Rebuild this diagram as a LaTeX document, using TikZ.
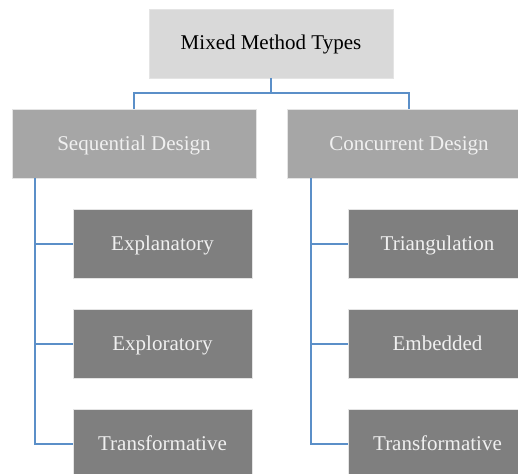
\documentclass[tikz,border=0pt]{standalone}
\usepackage{fontspec}
\setmainfont{Liberation Serif}
\definecolor{lvA}{HTML}{D9D9D9}
\definecolor{lvB}{HTML}{A6A6A6}
\definecolor{lvC}{HTML}{7F7F7F}
\definecolor{conn}{HTML}{5B8FC8}
\definecolor{edge}{HTML}{E4E4E4}
\begin{document}
\begin{tikzpicture}[x=1pt,y=-1pt,
  box/.style={rectangle,draw=edge,line width=0.8pt,inner sep=0pt,minimum height=69pt,
    text height=15pt,text depth=2pt,
    font=\fontsize{21}{25}\selectfont},
  topbox/.style={box,fill=lvA,text=black,minimum width=244pt},
  midbox/.style={box,fill=lvB,text=white!94!black,minimum width=244pt},
  leafbox/.style={box,fill=lvC,text=white!94!black,minimum width=179pt},
  link/.style={draw=conn,line width=2pt}]
\useasboundingbox (0,0) rectangle (518,473);
\node[topbox] (root) at (271,43.5) {Mixed Method Types};
\node[midbox] (seq) at (134,143.5) {Sequential Design};
\node[midbox] (con) at (409,143.5) {Concurrent Design};
\node[leafbox] (s1) at (162.5,243.5) {Explanatory};
\node[leafbox] (s2) at (162.5,343.5) {Exploratory};
\node[leafbox] (s3) at (162.5,443.5) {Transformative};
\node[leafbox] (c1) at (437.5,243.5) {Triangulation};
\node[leafbox] (c2) at (437.5,343.5) {Embedded};
\node[leafbox] (c3) at (437.5,443.5) {Transformative};
\coordinate (mid) at (271,93);
\draw[link] (root.south) -- (mid) -| (seq.north);
\draw[link] (mid) -| (con.north);
\draw[link] ([xshift=23pt]seq.south west) |- (s1.west);
\draw[link] ([xshift=23pt]seq.south west) |- (s2.west);
\draw[link] ([xshift=23pt]seq.south west) |- (s3.west);
\draw[link] ([xshift=24pt]con.south west) |- (c1.west);
\draw[link] ([xshift=24pt]con.south west) |- (c2.west);
\draw[link] ([xshift=24pt]con.south west) |- (c3.west);
\end{tikzpicture}
\end{document}
